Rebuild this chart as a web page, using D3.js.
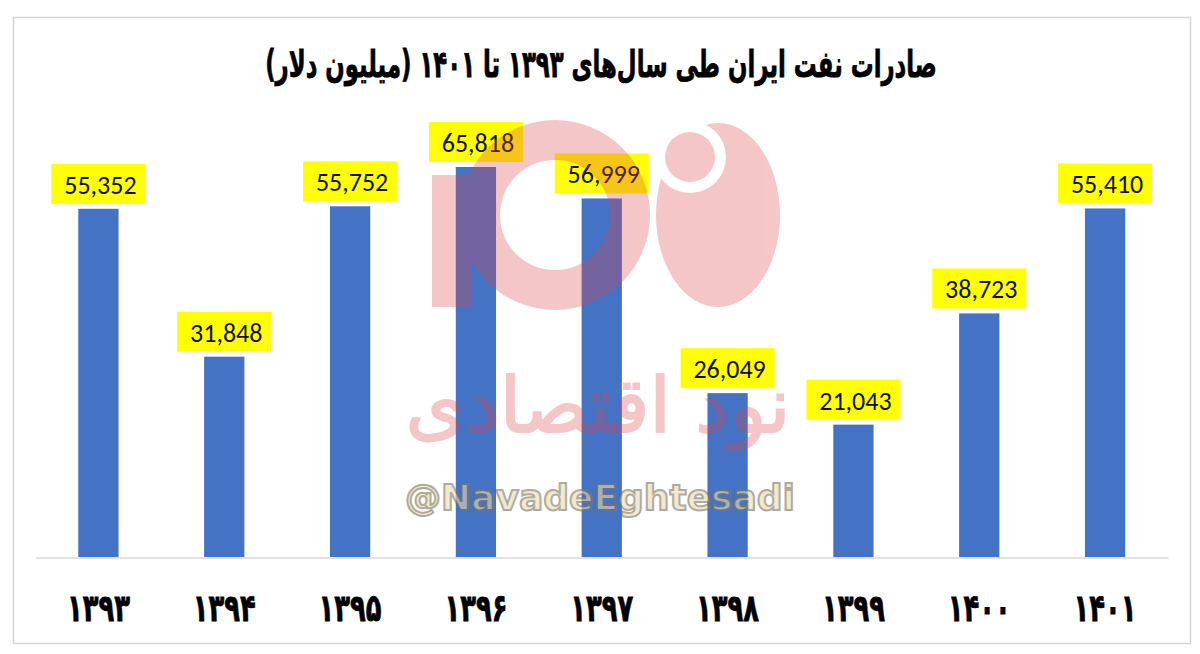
<!DOCTYPE html>
<html><head><meta charset="utf-8">
<script src="https://cdn.jsdelivr.net/npm/d3@7"></script>
<style>html,body{margin:0;padding:0;background:#fff;} svg{display:block}</style>
</head><body><svg id="chart" width="1200" height="654"></svg>
<script>
const categories = ["۱۳۹۳","۱۳۹۴","۱۳۹۵","۱۳۹۶","۱۳۹۷","۱۳۹۸","۱۳۹۹","۱۴۰۰","۱۴۰۱"];
const values = [55352, 31848, 55752, 65818, 56999, 26049, 21043, 38723, 55410];
const axisMax = 62000;
const titleText = "صادرات نفت ایران طی سال\u200cهای ۱۳۹۳ تا ۱۴۰۱ (میلیون دلار)";
const watermarkFa = "نود اقتصادی";
const watermarkHandle = "@NavadeEghtesadi";

const svg = d3.select("#chart");
const W = 1200, H = 654;
const m = {left: 35.5, right: 1168, top: 167, bottom: 557};

svg.append("rect").attr("x",0).attr("y",0).attr("width",W).attr("height",H).attr("fill","#fff");
svg.append("rect").attr("x",13.5).attr("y",17.5).attr("width",1177).attr("height",626)
  .attr("fill","none").attr("stroke","#d6d6d6").attr("stroke-width",1.5);

const x = d3.scaleBand().domain(categories).range([m.left, m.right]).paddingInner(0.68).paddingOuter(0.34);
const y = d3.scaleLinear().domain([0, axisMax]).range([m.bottom, m.top]).clamp(true);

// title (condensed horizontally to match the heavy narrow original face)
const titleG = svg.append("g").attr("transform","translate(601,77)");
const title = titleG.append("text").attr("x", 0).attr("y", 0)
  .attr("text-anchor","middle").attr("direction","rtl")
  .attr("font-family","'DejaVu Sans', sans-serif").attr("font-weight","bold")
  .attr("font-size", 37).attr("stroke","#000").attr("stroke-width",0.8)
  .attr("fill","#000").text(titleText);
{
  const w = title.node().getComputedTextLength();
  title.attr("transform", `scale(${672 / w},1)`);
}

// bars
const data = categories.map((c,i)=>({c, v: values[i]}));
svg.append("g").selectAll("rect").data(data).join("rect")
  .attr("x", d => x(d.c)).attr("width", x.bandwidth())
  .attr("y", d => y(d.v)).attr("height", d => y(0) - y(d.v))
  .attr("fill", "#4472c4");

// axis
const axis = svg.append("g").attr("transform", `translate(0,${m.bottom + 0.5})`)
  .call(d3.axisBottom(x).tickSize(0).tickSizeOuter(0));
axis.select(".domain").attr("stroke","#d9d9d9").attr("stroke-width",1.5);
const ticks = axis.selectAll(".tick text")
  .attr("dy", null).attr("y", 0)
  .attr("font-family","'DejaVu Sans', sans-serif").attr("font-weight","bold")
  .attr("font-size", 38).attr("stroke","#000").attr("stroke-width",0.8).attr("fill","#000");
{
  const w = ticks.nodes()[0].getComputedTextLength();
  ticks.attr("transform", `translate(0,${620 - m.bottom}) scale(${63 / w},1)`);
}

// labels
const fmt = d3.format(",");
const lab = svg.append("g").selectAll("g").data(data).join("g")
  .attr("transform", d => `translate(${x(d.c) + x.bandwidth()/2},${y(d.v) - 5})`);
lab.append("rect").attr("x",-47).attr("y",-40).attr("width",94).attr("height",40).attr("fill","#ffff00");
lab.append("text").attr("x",2).attr("y",-10).attr("text-anchor","middle")
  .attr("font-family","Carlito, Lato, sans-serif").attr("font-size",26).attr("fill","#111")
  .text(d => fmt(d.v));

// watermark
const wm = svg.append("g").attr("opacity", 0.3);
wm.append("circle").attr("cx",555).attr("cy",215).attr("r",75).attr("fill","none")
  .attr("stroke","#e0474c").attr("stroke-width",40);
wm.append("rect").attr("x",432).attr("y",175).attr("width",40).attr("height",132).attr("fill","#e0474c");
wm.append("ellipse").attr("cx",718).attr("cy",215).attr("rx",62).attr("ry",92).attr("fill","#e0474c");
wm.append("circle").attr("cx",690).attr("cy",157).attr("r",36).attr("fill","#fff");
wm.append("circle").attr("cx",690).attr("cy",157).attr("r",25).attr("fill","#e0474c");
const wt = wm.append("text").attr("x",598).attr("y",432).attr("text-anchor","middle").attr("direction","rtl")
  .attr("font-family","'DejaVu Sans', sans-serif").attr("font-size",100)
  .attr("fill","#e0474c").attr("stroke","#e0474c").attr("stroke-width",2).text(watermarkFa);
{
  const w = wt.node().getComputedTextLength();
  wt.attr("font-size", 100 * 385 / w);
}
const ht = svg.append("text").attr("x",600).attr("y",510).attr("text-anchor","middle")
  .attr("font-family","'DejaVu Sans', sans-serif").attr("font-weight","bold").attr("font-size",40)
  .attr("fill","#eadcae").attr("stroke","#7d7560").attr("stroke-width",2).attr("opacity",0.6)
  .text(watermarkHandle);
{
  const w = ht.node().getComputedTextLength();
  ht.attr("font-size", 40 * 390 / w);
}
</script></body></html>
